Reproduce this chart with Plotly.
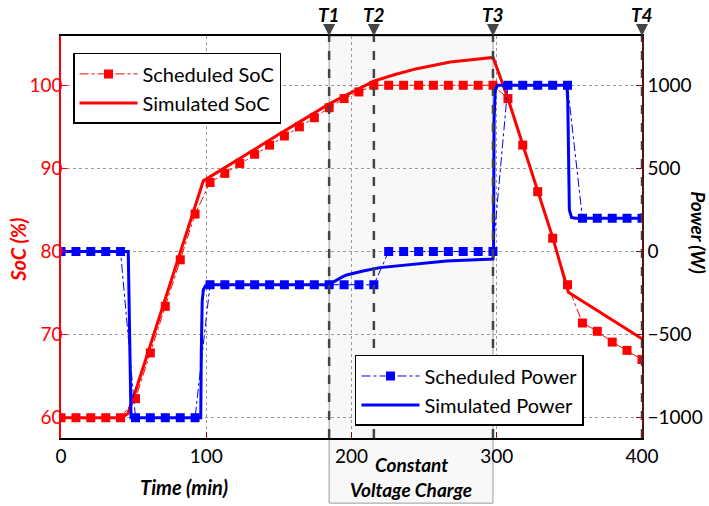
import plotly.graph_objects as go

# ---------------- data ----------------
time_sched = [0.0, 10.3, 20.5, 30.8, 41.0, 51.3, 61.5, 71.8, 82.1, 92.3,
              102.6, 112.8, 123.1, 133.3, 143.6, 153.8, 164.1, 174.4, 184.6, 194.9,
              205.1, 215.4, 225.6, 235.9, 246.2, 256.4, 266.7, 276.9, 287.2, 297.4,
              307.7, 317.9, 328.2, 338.5, 348.7, 359.0, 369.2, 379.5, 389.7, 400.0]
soc_sched = [60, 60, 60, 60, 60, 62.3, 67.8, 73.4, 79.0, 84.5,
             88.3, 89.4, 90.6, 91.7, 92.8, 93.9, 95.0, 96.1, 97.3, 98.4,
             99.2, 100, 100, 100, 100, 100, 100, 100, 100, 100,
             98.4, 92.8, 87.2, 81.6, 76.0, 71.4, 70.4, 69.1, 68.1, 67.0]
power_sched = [0, 0, 0, 0, 0, -1000, -1000, -1000, -1000, -1000,
               -200, -200, -200, -200, -200, -200, -200, -200, -200, -200,
               -200, -200, 0, 0, 0, 0, 0, 0, 0, 0,
               1000, 1000, 1000, 1000, 1000, 200, 200, 200, 200, 200]

time_sim_soc = [0, 42, 46, 50, 98, 110, 130, 150, 170, 185, 195, 205, 215.4,
                230, 245, 268, 297.5, 307.7, 317.9, 328.2, 338.5, 349.3, 400]
soc_sim = [60, 60, 60.5, 62.5, 88.5, 89.8, 92.0, 94.1, 96.2, 97.8, 98.7, 99.6, 100.5,
           101.3, 102.0, 102.8, 103.35, 98.4, 92.9, 87.3, 81.7, 75.1, 69.5]

time_sim_pow = [0, 46.3, 48.2, 96.2, 96.6, 97.2, 98.0, 99.5, 101, 184.7, 187, 190,
                193, 196.7, 202, 208, 219.6, 242.6, 265.5, 297.4, 297.8, 298.2, 299, 300.5,
                348.3, 348.9, 349.5, 350.0, 351.5, 354, 400]
power_sim = [0, 0, -1000, -1000, -600, -300, -230, -205, -200, -200, -186, -170,
             -156, -141, -128, -117, -97, -75, -57, -45, 0, 800, 970, 1000,
             1000, 900, 400, 250, 205, 200, 200]

event_times = [184.6, 215.4, 297.4, 400.0]
event_labels = ["T1", "T2", "T3", "T4"]
cv_start, cv_end = 184.6, 297.4

soc_ticks = [60, 70, 80, 90, 100]
power_ticks = [-1000, -500, 0, 500, 1000]
time_ticks = [0, 100, 200, 300, 400]

FONT = "Lato, 'Open Sans', sans-serif"
RED = "#ff0000"
BLUE = "#0000ff"

fig = go.Figure()

fig.add_trace(go.Scatter(
    x=time_sched, y=soc_sched, name="Scheduled SoC", mode="lines+markers",
    line=dict(color=RED, width=1, dash="dashdot"),
    marker=dict(symbol="square", size=9, color=RED),
    legend="legend", yaxis="y"))
fig.add_trace(go.Scatter(
    x=time_sim_soc, y=soc_sim, name="Simulated SoC", mode="lines",
    line=dict(color=RED, width=3), legend="legend", yaxis="y"))
fig.add_trace(go.Scatter(
    x=time_sched, y=power_sched, name="Scheduled Power", mode="lines+markers",
    line=dict(color=BLUE, width=1, dash="dashdot"),
    marker=dict(symbol="square", size=9, color=BLUE),
    legend="legend2", yaxis="y2"))
fig.add_trace(go.Scatter(
    x=time_sim_pow, y=power_sim, name="Simulated Power", mode="lines",
    line=dict(color=BLUE, width=3), legend="legend2", yaxis="y2"))

# shaded constant-voltage region, extending into a caption box below the axis
fig.add_shape(type="rect", xref="x", yref="paper", x0=cv_start, x1=cv_end,
              y0=-0.162, y1=1, fillcolor="#f8f8f8",
              line=dict(color="#9a9a9a", width=1), layer="below")

for t, lab in zip(event_times, event_labels):
    fig.add_shape(type="line", xref="x", yref="paper", x0=t, x1=t, y0=0, y1=1,
                  line=dict(color="#444444", width=2.5, dash="dash"), layer="above")
    fig.add_annotation(x=t, y=1, xref="x", yref="paper", text="<b><i>" + lab + "</i></b>",
                       showarrow=True, ax=0, ay=-22, arrowhead=2, arrowsize=1.2,
                       arrowwidth=2, arrowcolor="#444444",
                       font=dict(family=FONT, size=19, color="black"))

fig.add_annotation(x=(cv_start + cv_end) / 2, y=-0.067, xref="x", yref="paper",
                   xanchor="center", yanchor="middle",
                   text="<b><i>Constant</i></b>", showarrow=False,
                   font=dict(family=FONT, size=19, color="black"))
fig.add_annotation(x=(cv_start + cv_end) / 2, y=-0.127, xref="x", yref="paper",
                   xanchor="center", yanchor="middle",
                   text="<b><i>Voltage Charge</i></b>", showarrow=False,
                   font=dict(family=FONT, size=19, color="black"))

fig.add_annotation(x=0.211, y=-0.122, xref="paper", yref="paper",
                   xanchor="center", yanchor="middle",
                   text="<b><i>Time (min)</i></b>", showarrow=False,
                   font=dict(family=FONT, size=20, color="black"))
fig.add_annotation(x=-0.074, y=0.468, xref="paper", yref="paper", textangle=-90,
                   xanchor="center", yanchor="middle",
                   text="<b><i>SoC (%)</i></b>", showarrow=False,
                   font=dict(family=FONT, size=20, color=RED))
fig.add_annotation(x=1.096, y=0.51, xref="paper", yref="paper", textangle=90,
                   xanchor="center", yanchor="middle",
                   text="<b><i>Power (W)</i></b>", showarrow=False,
                   font=dict(family=FONT, size=19, color="black"))

grid = dict(showgrid=True, gridcolor="#9a9a9a", gridwidth=1, griddash="dot")

fig.update_layout(
    width=709, height=506,
    margin=dict(l=61, r=67, t=36, b=68, autoexpand=False),
    paper_bgcolor="white", plot_bgcolor="rgba(0,0,0,0)",
    font=dict(family=FONT, size=19, color="black"),
    xaxis=dict(range=[0, 400], tickvals=time_ticks, **grid, zeroline=False,
               showline=True, linecolor="black", linewidth=1.5, mirror=True,
               ticks="inside", ticklen=6, tickcolor="#7a1010",
               tickfont=dict(size=19, color="black")),
    yaxis=dict(range=[57.56, 105.93], tickvals=soc_ticks, **grid, zeroline=False,
               showline=True, linecolor=RED, linewidth=1.5,
               ticks="inside", ticklen=6, tickcolor=RED, ticklabelstandoff=-7,
               tickfont=dict(size=19, color=RED)),
    yaxis2=dict(range=[-1122, 1296.5], tickvals=power_ticks, overlaying="y", side="right",
                showgrid=False, zeroline=False, showline=True, linecolor="#5a1010",
                linewidth=1.5, ticks="inside", ticklen=6, tickcolor="#7a1010",
                tickfont=dict(size=19, color="black")),
    legend=dict(x=0.0207, y=0.958, xanchor="left", yanchor="top",
                bgcolor="white", bordercolor="black", borderwidth=1.5,
                itemwidth=58, font=dict(family=FONT, size=20, color="black"),
                tracegroupgap=0),
    legend2=dict(x=0.506, y=0.2065, xanchor="left", yanchor="top",
                 bgcolor="white", bordercolor="black", borderwidth=1.5,
                 itemwidth=58, font=dict(family=FONT, size=20, color="black"),
                 tracegroupgap=0),
    showlegend=True,
)

fig.write_html("out.html", config={"displayModeBar": False},
               post_script="document.body.style.margin='0px';")
